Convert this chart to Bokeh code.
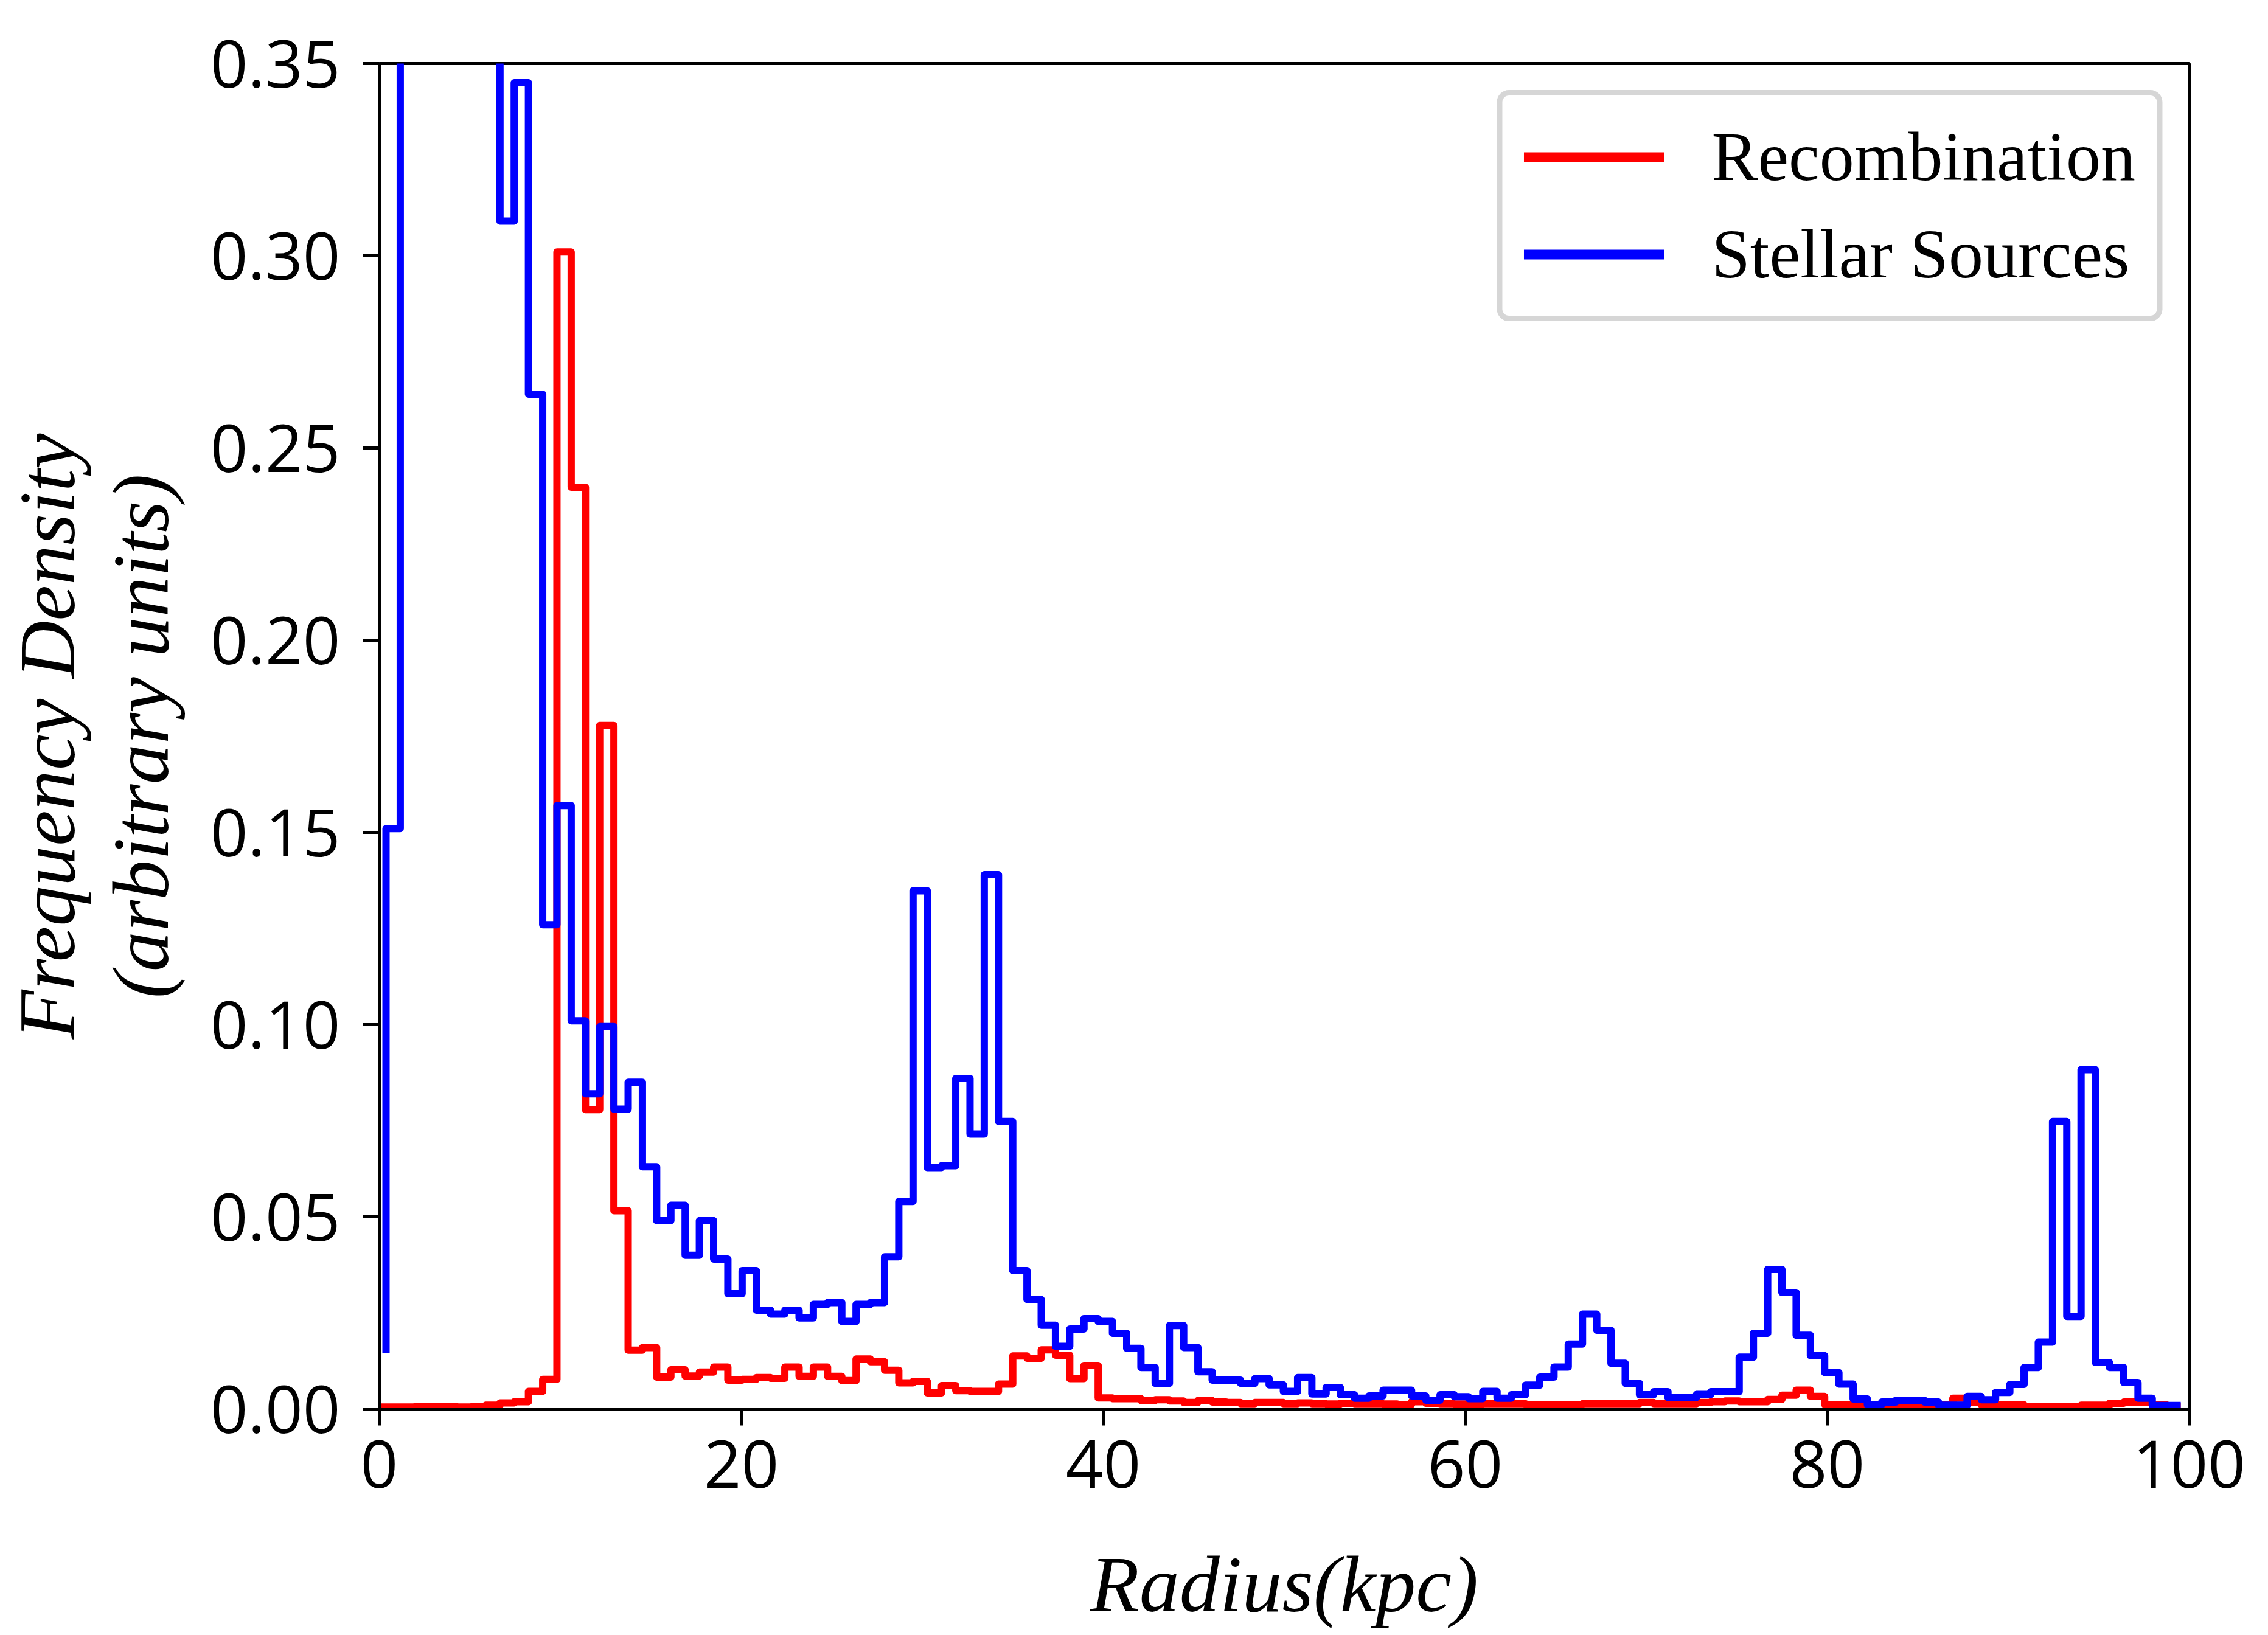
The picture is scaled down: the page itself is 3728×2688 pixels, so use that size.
import numpy as np
from bokeh.plotting import figure
from bokeh.models import Range1d, FixedTicker, PrintfTickFormatter, Legend, LegendItem
from bokeh.embed import file_html
from bokeh.resources import INLINE

# ---------------- data ----------------
BIN_START = 0.37      # kpc, first bin edge of the histogram
BIN_WIDTH = 0.787     # kpc, width of each radial bin

# Stellar Sources: level of each bin k (k = 0 .. 125), bins 1-7 run off the top of the axes
stellar_levels = [
    0.151, 0.42, 0.55, 0.62, 0.60, 0.52, 0.44, 0.38, 0.309, 0.345,
    0.264, 0.126, 0.157, 0.101, 0.082, 0.0995, 0.078, 0.085, 0.063, 0.049,
    0.053, 0.040, 0.049, 0.039, 0.030, 0.036, 0.0257, 0.0247, 0.0257, 0.0237,
    0.0272, 0.0277, 0.0228, 0.0272, 0.0277, 0.0396, 0.054, 0.1348, 0.0628, 0.0633,
    0.086, 0.0715, 0.139, 0.0748, 0.036, 0.0285, 0.0218, 0.0163, 0.0208, 0.0235,
    0.0228, 0.0197, 0.0158, 0.0108, 0.0067, 0.0217, 0.016, 0.0097, 0.0075, 0.0075,
    0.0067, 0.0079, 0.0063, 0.0046, 0.0082, 0.0039, 0.0056, 0.0037, 0.0028, 0.0034,
    0.0049, 0.0049, 0.0034, 0.0023, 0.0037, 0.0032, 0.0027, 0.0046, 0.0028, 0.0037,
    0.0062, 0.0083, 0.0109, 0.0169, 0.0247, 0.0205, 0.0119, 0.0067, 0.0037, 0.0045,
    0.0030, 0.0030, 0.0038, 0.0045, 0.0045, 0.0135, 0.0197, 0.0363, 0.0303, 0.0192,
    0.0139, 0.0095, 0.0065, 0.0026, 0.0011, 0.0018, 0.0023, 0.0023, 0.0018, 0.0010,
    0.0010, 0.0033, 0.0024, 0.0043, 0.0064, 0.0108, 0.0174, 0.0748, 0.0241, 0.0883,
    0.0121, 0.0108, 0.0069, 0.0028, 0.0009, 0.0009,
]
stellar_start = 0.0146   # value where the stellar curve begins

# Recombination: level of each bin k (k = -1 .. 125)
recomb_levels = [
    0.0005,
    0.0005, 0.0005, 0.0006, 0.0007, 0.0006, 0.0005, 0.0006, 0.0010, 0.0016, 0.0019,
    0.0046, 0.0077, 0.301, 0.2398, 0.0779, 0.1778, 0.0516, 0.0153, 0.0160, 0.0083,
    0.0102, 0.0086, 0.0096, 0.0109, 0.0075, 0.0077, 0.0082, 0.0080, 0.0109, 0.0085,
    0.0109, 0.0085, 0.0074, 0.0130, 0.0123, 0.0101, 0.0068, 0.0072, 0.0042, 0.0061,
    0.0048, 0.0046, 0.0046, 0.0065, 0.0138, 0.0132, 0.0154, 0.0140, 0.0079, 0.0113,
    0.0029, 0.0027, 0.0027, 0.0022, 0.0024, 0.0021, 0.0017, 0.0022, 0.0018, 0.0017,
    0.0014, 0.0017, 0.0017, 0.0014, 0.0016, 0.0014, 0.0013, 0.0015, 0.0014, 0.0014,
    0.0013, 0.0012, 0.0019, 0.0015, 0.0014, 0.0013, 0.0013, 0.0014, 0.0014, 0.0014,
    0.0012, 0.0012, 0.0012, 0.0012, 0.0014, 0.0014, 0.0014, 0.0014, 0.0017, 0.0014,
    0.0014, 0.0014, 0.0017, 0.0019, 0.0021, 0.0019, 0.0019, 0.0025, 0.0036, 0.0049,
    0.0033, 0.0012, 0.0012, 0.0010, 0.0010, 0.0010, 0.0010, 0.0010, 0.0010, 0.0012,
    0.0028, 0.0018, 0.0011, 0.0011, 0.0011, 0.0007, 0.0007, 0.0007, 0.0007, 0.0010,
    0.0010, 0.0015, 0.0018, 0.0018, 0.0011, 0.0007,
]

x_ticks = [0, 20, 40, 60, 80, 100]
y_ticks = [0.00, 0.05, 0.10, 0.15, 0.20, 0.25, 0.30, 0.35]
series_labels = ["Recombination", "Stellar Sources"]
series_colors = ["#ff0000", "#0000ff"]

# step-curve vertices (histogram outlines, level held up to each edge)
stellar_x = BIN_START + BIN_WIDTH * np.arange(0, len(stellar_levels) + 1)
stellar_y = [stellar_start] + stellar_levels
recomb_x = BIN_START + BIN_WIDTH * np.arange(-1, len(recomb_levels))
recomb_y = [recomb_levels[0]] + recomb_levels

# ---------------- figure ----------------
p = figure(
    frame_width=2975, frame_height=2212,
    min_border_left=623, min_border_right=114,
    min_border_top=104, min_border_bottom=356,
    x_range=Range1d(0, 100), y_range=Range1d(0, 0.35),
    output_backend="svg", toolbar_location=None,
    background_fill_color="white", border_fill_color="white",
)
p.grid.visible = False
p.outline_line_color = "black"
p.outline_line_width = 5
p.outline_line_alpha = 1.0

for ax in (p.xaxis[0], p.yaxis[0]):
    ax.axis_line_width = 5
    ax.axis_line_color = "black"
    ax.major_tick_in = 0
    ax.major_tick_out = 27
    ax.major_tick_line_width = 5
    ax.minor_tick_line_color = None
    ax.major_label_text_font = "Open Sans"
    ax.major_label_text_font_size = "108px"
    ax.major_label_text_color = "black"
    ax.axis_label_text_font = "Liberation Serif"
    ax.axis_label_text_font_style = "italic"
    ax.axis_label_text_font_size = "132px"
    ax.axis_label_text_color = "black"

p.xaxis.ticker = FixedTicker(ticks=x_ticks)
p.xaxis.formatter = PrintfTickFormatter(format="%d")
p.xaxis.major_label_standoff = 24
p.xaxis.axis_label = "Radius(kpc)"
p.xaxis.axis_label_standoff = 82

p.yaxis.ticker = FixedTicker(ticks=y_ticks)
p.yaxis.formatter = PrintfTickFormatter(format="%.2f")
p.yaxis.major_label_standoff = 37
p.yaxis.axis_label = "Frequency Density\n(arbitrary units)"
p.yaxis.axis_label_standoff = 38
p.yaxis.axis_label_text_line_height = 1.05

r_rec = p.step(x=recomb_x, y=recomb_y, mode="before", line_color=series_colors[0],
               line_width=12, line_join="round")
r_ste = p.step(x=stellar_x, y=stellar_y, mode="before", line_color=series_colors[1],
               line_width=12, line_join="round")

# legend handles (thicker, as in the reference); NaN data so nothing is drawn in the frame
leg_r = p.line(x=[np.nan], y=[np.nan], line_color=series_colors[0], line_width=16)
leg_b = p.line(x=[np.nan], y=[np.nan], line_color=series_colors[1], line_width=16)

legend = Legend(
    items=[LegendItem(label=series_labels[0], renderers=[leg_r]),
           LegendItem(label=series_labels[1], renderers=[leg_b])],
    location="top_right",
    label_text_font="Liberation Serif", label_text_font_size="114px",
    label_text_color="black",
    label_standoff=78, glyph_width=231, glyph_height=126, label_height=126,
    spacing=28, padding=35, margin=44,
    border_line_color="#d6d6d6", border_line_width=9, border_line_alpha=1.0,
    background_fill_color="white", background_fill_alpha=1.0,
)
if "border_radius" in Legend.properties():
    legend.border_radius = 20
p.add_layout(legend)

open("out.html", "w").write(file_html(p, INLINE, title="Radius histogram"))
